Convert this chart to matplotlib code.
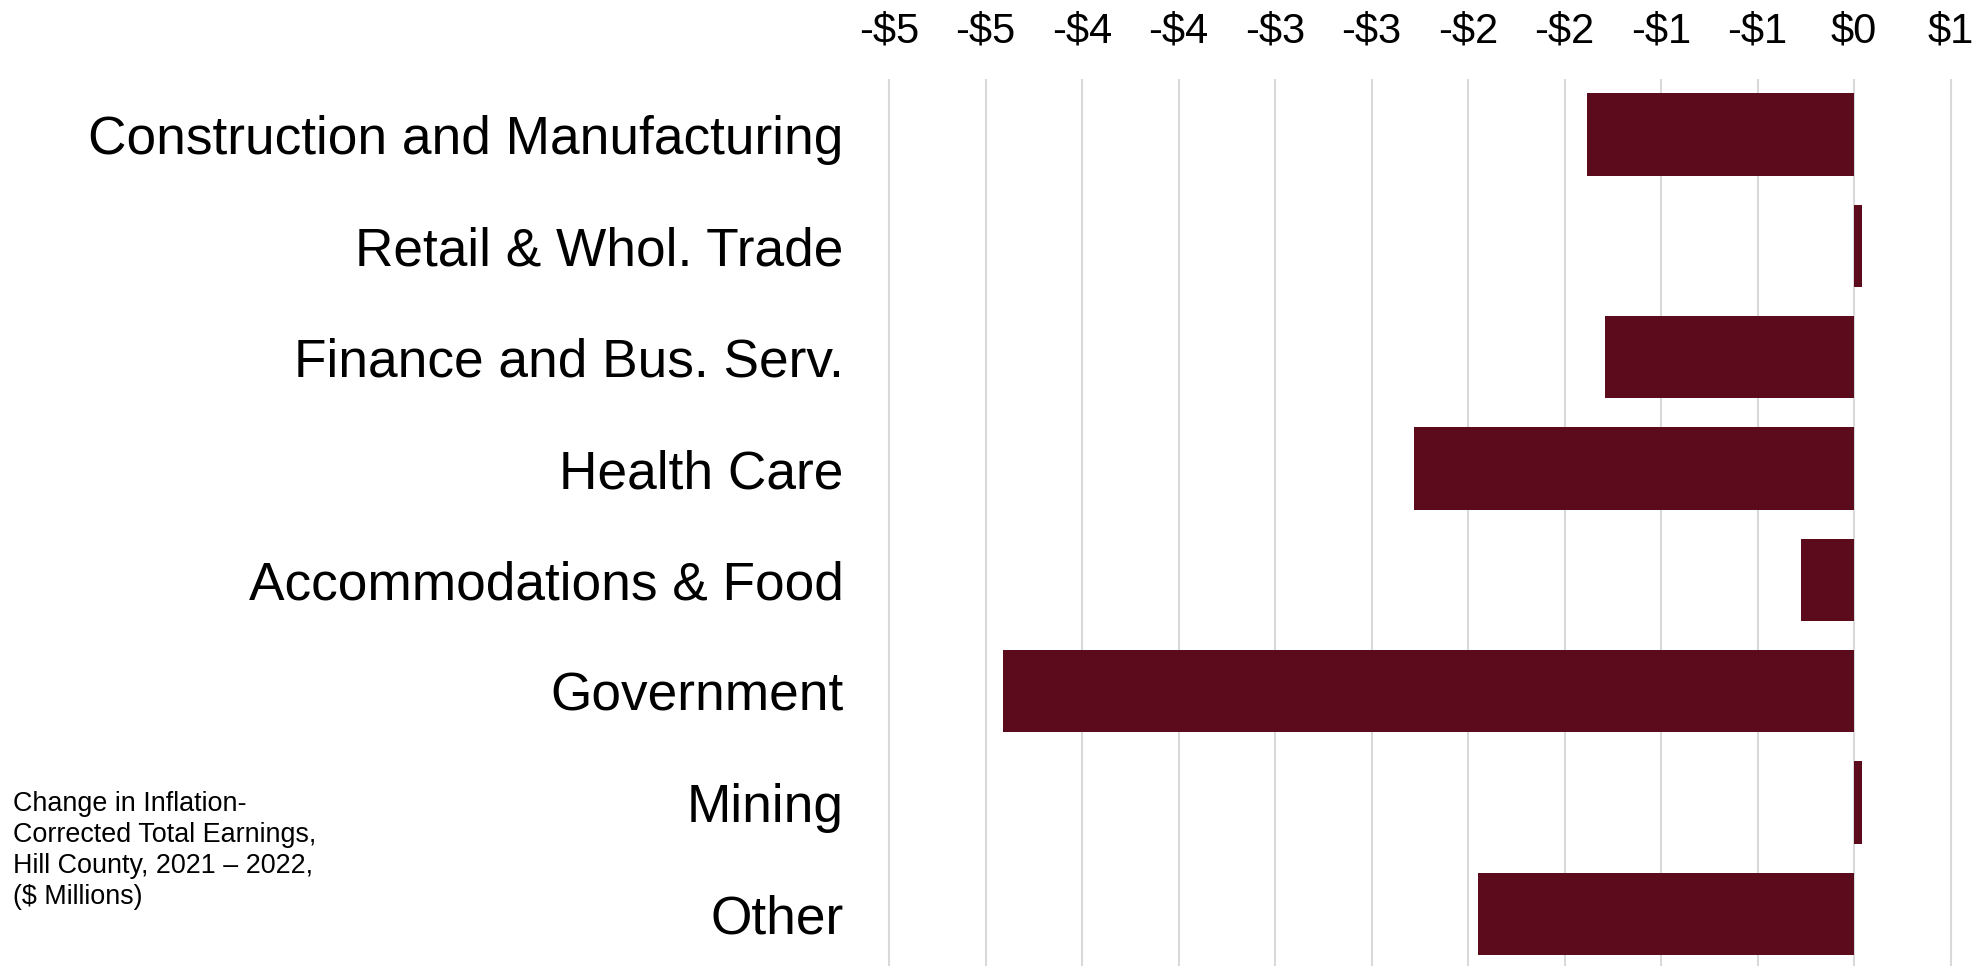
import matplotlib
matplotlib.use("Agg")
import matplotlib.pyplot as plt

categories = ["Construction and Manufacturing", "Retail & Whol. Trade",
              "Finance and Bus. Serv.", "Health Care", "Accommodations & Food",
              "Government", "Mining", "Other"]
values = [-1.386, 0.041, -1.291, -2.282, -0.276, -4.41, 0.044, -1.95]
tick_values = [-5.0, -4.5, -4.0, -3.5, -3.0, -2.5, -2.0, -1.5, -1.0, -0.5, 0.0, 0.5]
tick_labels = ["-$5", "-$5", "-$4", "-$4", "-$3", "-$3", "-$2", "-$2", "-$1", "-$1", "$0", "$1"]
caption = "Change in Inflation-\nCorrected Total Earnings,\nHill County, 2021 \u2013 2022,\n($ Millions)"

plt.rcParams['font.family'] = ['Liberation Sans', 'DejaVu Sans']

W, H = 1979, 966
fig = plt.figure(figsize=(W / 100, H / 100), dpi=100)

x0, x1 = -5.1, 0.6
px_per_unit = 193.0
left_px = 889 - 0.1 * px_per_unit
right_px = left_px + (x1 - x0) * px_per_unit
top_px = 79
height_px = 8 * 111.3
ax = fig.add_axes([left_px / W, 1 - (top_px + height_px) / H,
                   (right_px - left_px) / W, height_px / H])

ypos = list(range(len(categories)))
ax.barh(ypos, values, height=0.74, color="#5C0B1C", zorder=3)
ax.set_xlim(x0, x1)
ax.set_ylim(7.5, -0.5)

ax.set_xticks(tick_values)
ax.set_xticklabels(tick_labels, fontsize=30)
ax.xaxis.tick_top()
ax.tick_params(axis='x', length=0, pad=20)
ax.set_yticks(ypos)
ax.set_yticklabels(categories, fontsize=38.3)
ax.tick_params(axis='y', length=0, pad=18.8)
ax.grid(axis='x', color="#D9D9D9", linewidth=1.5, zorder=0)
ax.grid(axis='y', visible=False)
for s in ax.spines.values():
    s.set_visible(False)

fig.text(13 / W, 1 - 791 / H, caption, fontsize=19.4, va='top', ha='left',
         linespacing=1.25)

fig.savefig("out.png", dpi=100)
